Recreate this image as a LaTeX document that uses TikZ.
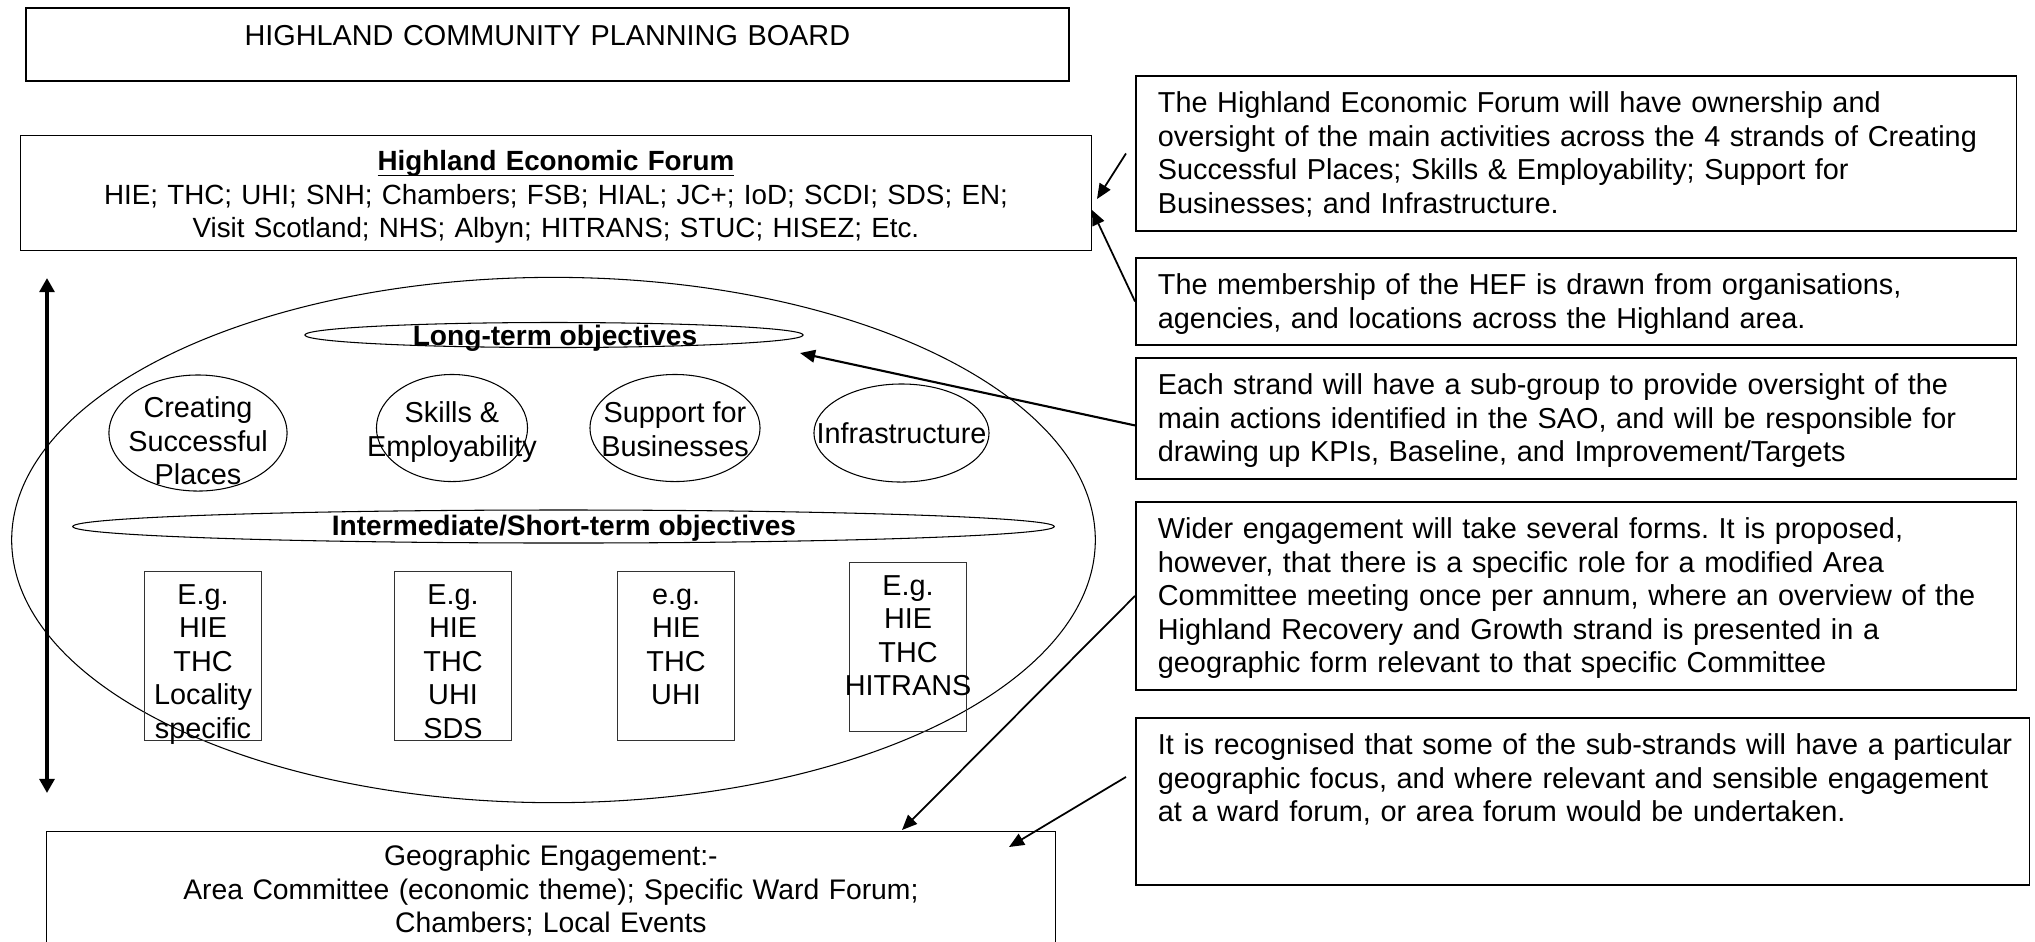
\documentclass[tikz,border=0pt]{standalone}
\usepackage{fontspec}
\setmainfont{Liberation Sans}
\usetikzlibrary{shapes,arrows.meta,calc}
\frenchspacing

\tikzset{
  txt/.style={font=\fontsize{8.2}{9.5}\selectfont},
  board/.style={draw,anchor=north west,inner sep=0pt,align=center,txt},
  note/.style={draw,line width=0.5pt,anchor=north west,inner xsep=0.22cm,inner ysep=0pt,
    text width=8.36cm,align=left,text height=0.37cm,txt},
  strand/.style={draw,ellipse,line width=0.3pt,inner sep=0pt},
  level/.style={font=\fontsize{8}{9.5}\selectfont\bfseries},
  egbox/.style={draw=black!80,line width=0.3pt,anchor=north west,inner sep=0pt,
    text width=1.17cm,align=center,text height=0.33cm,text depth=1.36cm,txt},
  pointer/.style={line width=0.5pt,-{Triangle[length=4.3pt,width=3.6pt]}},
}

\begin{document}
\begin{tikzpicture}[x=0.01cm,y=-0.01cm]
        \useasboundingbox (0,0) rectangle (2035,941);

        \node[board,line width=0.6pt,text width=10.42cm,text height=0.37cm,text depth=0.36cm] (cpb) at (25,7)
          {HIGHLAND COMMUNITY PLANNING BOARD};
        \node[board,line width=0.35pt,text width=10.70cm,text height=0.35cm,text depth=0.80cm,
          font=\fontsize{7.9}{9.5}\selectfont] (hef) at (20,135)
          {\underline{\smash{\textbf{Highland Economic Forum}}}\\
           HIE; THC; UHI; SNH; Chambers; FSB; HIAL; JC+; IoD; SCDI; SDS; EN;\\
           Visit Scotland; NHS; Albyn; HITRANS; STUC; HISEZ; Etc.};
        \node[board,line width=0.35pt,text width=10.08cm,text height=0.34cm,text depth=0.85cm,
          font=\fontsize{8.05}{9.5}\selectfont] (geo) at (46,831)
          {Geographic Engagement:-\\
           Area Committee (economic theme); Specific Ward Forum;\\
           Chambers; Local Events};

        \node[strand,minimum width=10.83cm,minimum height=5.25cm] (plan) at (553.5,540) {};
        \node[strand,minimum width=4.98cm,minimum height=0.25cm] (longterm) at (554,335) {};
        \node[level] (longterm-t) at (555,338) {Long-term objectives};
        \node[strand,minimum width=9.81cm,minimum height=0.33cm] (shortterm) at (563.5,526.5) {};
        \node[level] (shortterm-t) at (564,528) {Intermediate/Short-term objectives};

        \node[strand,minimum width=1.78cm,minimum height=1.16cm] (places) at (198,433) {};
        \node[txt,align=center] (places-t) at (198,441) {Creating\\Successful\\Places};
        \node[strand,minimum width=1.51cm,minimum height=1.07cm] (skills) at (452,428) {};
        \node[txt,align=center] (skills-t) at (452,432) {Skills \&\\Employability};
        \node[strand,minimum width=1.70cm,minimum height=1.07cm] (business) at (675,428) {};
        \node[txt,align=center] (business-t) at (675,429) {Support for\\Businesses};
        \node[strand,minimum width=1.75cm,minimum height=0.98cm] (infra) at (901.5,433) {};
        \node[txt] (infra-t) at (901.5,433) {Infrastructure};

        \node[egbox] (eg1) at (144,571) {E.g.\\HIE\\THC\\Locality\\specific};
        \node[egbox] (eg2) at (394,571) {E.g.\\HIE\\THC\\UHI\\SDS};
        \node[egbox] (eg3) at (617,571) {e.g.\\HIE\\THC\\UHI};
        \node[egbox] (eg4) at (849,562) {E.g.\\HIE\\THC\\\makebox[0pt]{HITRANS}};

        \node[note,text depth=1.18cm] (n1) at (1135,75)
          {The Highland Economic Forum will have ownership and\\
           oversight of the main activities across the 4 strands of Creating\\
           Successful Places; Skills \& Employability; Support for\\
           Businesses; and Infrastructure.};
        \node[note,text depth=0.50cm] (n2) at (1135,257)
          {The membership of the HEF is drawn from organisations,\\
           agencies, and locations across the Highland area.};
        \node[note,text depth=0.84cm] (n3) at (1135,357)
          {Each strand will have a sub-group to provide oversight of the\\
           main actions identified in the SAO, and will be responsible for\\
           drawing up KPIs, Baseline, and Improvement/Targets};
        \node[note,text depth=1.51cm] (n4) at (1135,501)
          {Wider engagement will take several forms. It is proposed,\\
           however, that there is a specific role for a modified Area\\
           Committee meeting once per annum, where an overview of the\\
           Highland Recovery and Growth strand is presented in a\\
           geographic form relevant to that specific Committee};
        \node[note,text depth=1.30cm,text width=8.49cm] (n5) at (1135,717)
          {\mbox{It is recognised that some of the sub-strands will have a particular}\\
           geographic focus, and where relevant and sensible engagement\\
           at a ward forum, or area forum would be undertaken.};

        \coordinate (scale-top) at (47,278);
        \coordinate (scale-bot) at (47,793);
        \coordinate (hef-a) at (1097,199);
        \coordinate (hef-b) at (1092,210);
        \coordinate (lt-in) at (800,353);
        \coordinate (geo-a) at (902,830);
        \coordinate (geo-b) at (1009,847);

        \draw[line width=1pt,{Triangle[length=4pt,width=4.2pt]}-{Triangle[length=4pt,width=4.2pt]}] (scale-top) -- (scale-bot);

        \draw[pointer] ([xshift=-0.09cm]n1.west) -- (hef-a);
        \draw[pointer] (n2.west) -- (hef-b);
        \draw[pointer,line width=0.6pt] ([yshift=-0.07cm]n3.west) -- (lt-in);
        \draw[pointer] (n4.west) -- (geo-a);
        \draw[pointer] ([xshift=-0.09cm,yshift=0.245cm]n5.west) -- (geo-b);

      \end{tikzpicture}
\end{document}
